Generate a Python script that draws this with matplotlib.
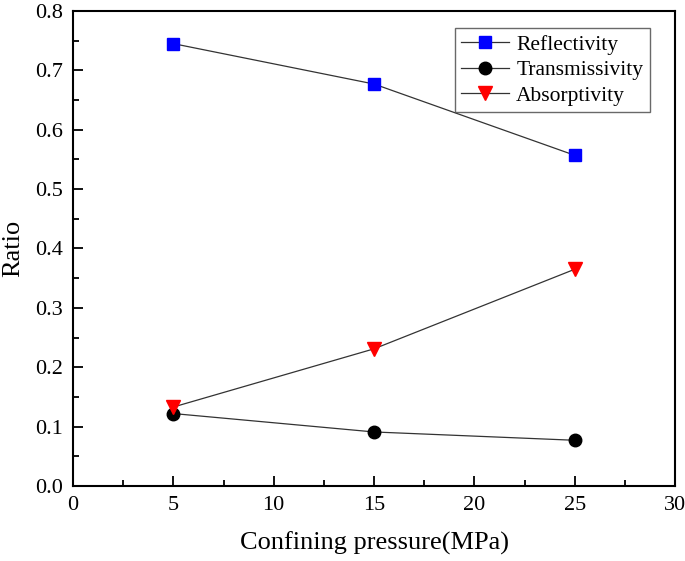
import matplotlib
matplotlib.use('Agg')
import matplotlib.pyplot as plt
from matplotlib.ticker import MultipleLocator

plt.rcParams['font.family'] = ['Liberation Serif', 'DejaVu Serif']

pressure = [5, 15, 25]
reflectivity = [0.745, 0.677, 0.557]
transmissivity = [0.122, 0.091, 0.077]
absorptivity = [0.133, 0.231, 0.365]

fig = plt.figure(figsize=(6.85, 5.61), dpi=100)
ax = fig.add_axes([0.1066, 0.1337, 0.8788, 0.8467])

ax.plot(pressure, reflectivity, marker='s', markerfacecolor='blue', markeredgecolor='blue',
        label='Reflectivity', markersize=8, color='#333333', linewidth=0.9)
ax.plot(pressure, transmissivity, marker='o', markerfacecolor='black', markeredgecolor='black',
        label='Transmissivity', markersize=9, color='#333333', linewidth=0.9)
ax.plot(pressure, absorptivity, marker='v', markerfacecolor='red', markeredgecolor='red',
        label='Absorptivity', markersize=10, color='#333333', linewidth=0.9)

ax.set_xlim(0, 30)
ax.set_ylim(0, 0.8)
ax.xaxis.set_major_locator(MultipleLocator(5))
ax.xaxis.set_minor_locator(MultipleLocator(2.5))
ax.yaxis.set_major_locator(MultipleLocator(0.1))
ax.yaxis.set_minor_locator(MultipleLocator(0.05))
ax.yaxis.set_major_formatter(plt.FormatStrFormatter('%.1f'))

ax.tick_params(which='both', direction='in', top=False, right=False, width=1.3, labelsize=16)
ax.tick_params(which='major', length=7)
ax.tick_params(which='minor', length=4)
ax.tick_params(axis='x', which='major', pad=7)
ax.tick_params(axis='y', which='major', pad=7)
for s in ax.spines.values():
    s.set_linewidth(1.5)

ax.set_xlabel('Confining pressure(MPa)', fontsize=19, labelpad=12)
ax.set_ylabel('Ratio', fontsize=19, labelpad=8)

leg = ax.legend(loc='upper right', bbox_to_anchor=(0.958, 0.964), fontsize=15.5, frameon=True,
                fancybox=False, edgecolor='#444444', handlelength=2.2, borderpad=0.3,
                labelspacing=0.25, handletextpad=0.35, borderaxespad=0)
leg.get_frame().set_linewidth(1.0)

fig.savefig('out.png', dpi=100)
